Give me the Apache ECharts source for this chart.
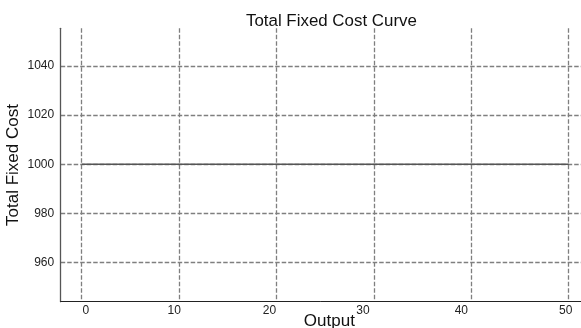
<!DOCTYPE html>
<html>
<head>
<meta charset="utf-8">
<script src="https://cdn.jsdelivr.net/npm/echarts@6/dist/echarts.min.js"></script>
<style>html,body{margin:0;padding:0;background:#fff}#c{width:581px;height:328px}</style>
</head>
<body>
<div id="c"></div>
<script>
var outputValues = [0, 10, 20, 30, 40, 50];
var fixedCostValues = [1000, 1000, 1000, 1000, 1000, 1000];
var xTickValues = [0, 10, 20, 30, 40, 50];
var yTickValues = [960, 980, 1000, 1020, 1040];

// visual horizontal nudges of x tick labels (px), as in the reference
var xLabelShift = {0: 4, 10: -5, 20: -7, 30: -11, 40: -10, 50: -3};

var rich = {};
xTickValues.forEach(function (v) {
  var s = xLabelShift[v] || 0;
  rich['t' + v] = {
    fontFamily: 'Liberation Sans, Arial, sans-serif',
    fontSize: 12,
    color: '#222',
    padding: s >= 0 ? [0, 0, 0, 2 * s] : [0, -2 * s, 0, 0]
  };
});

var chart = echarts.init(document.getElementById('c'), null, {renderer: 'canvas'});
var gridLine = {show: true, lineStyle: {color: '#7f7f7f', width: 1.3, type: [4.5, 2]}};
chart.setOption({
  animation: false,
  backgroundColor: '#fff',
  title: {
    text: 'Total Fixed Cost Curve',
    left: 241, top: 8,
    textStyle: {fontFamily: 'Liberation Sans, Arial, sans-serif', fontSize: 16.9, fontWeight: 'normal', color: '#111'}
  },
  grid: {left: 60.7, right: 0, top: 28.3, bottom: 26.3, containLabel: false, outerBoundsMode: 'none'},
  xAxis: {
    type: 'value', min: -2.16, max: 51.26,
    name: 'Output', nameLocation: 'middle', nameGap: 11, nameMoveOverlap: false,
    nameTextStyle: {fontFamily: 'Liberation Sans, Arial, sans-serif', fontSize: 17, color: '#111', padding: [0, 0, 0, 17]},
    axisLine: {show: true, onZero: false, lineStyle: {color: '#222', width: 1}},
    axisTick: {show: false, customValues: xTickValues},
    axisLabel: {
      customValues: xTickValues, margin: 3,
      formatter: function (v) { return '{t' + v + '|' + v + '}'; },
      rich: rich
    },
    splitLine: gridLine
  },
  yAxis: {
    type: 'value', min: 944.0, max: 1055.4,
    name: 'Total Fixed Cost', nameLocation: 'middle', nameGap: 39, nameMoveOverlap: false,
    nameTextStyle: {fontFamily: 'Liberation Sans, Arial, sans-serif', fontSize: 17, color: '#111'},
    axisLine: {show: true, onZero: false, lineStyle: {color: '#555', width: 1.3}},
    axisTick: {show: false, customValues: yTickValues},
    axisLabel: {customValues: yTickValues, margin: 6.5, fontFamily: 'Liberation Sans, Arial, sans-serif', fontSize: 12, color: '#222',
      formatter: function (v) { return String(v); }},
    splitLine: gridLine
  },
  series: [{
    type: 'line',
    data: outputValues.map(function (x, i) { return [x, fixedCostValues[i]]; }),
    showSymbol: false, symbol: 'none',
    lineStyle: {color: '#555', width: 1.3},
    z: 3
  }]
});
</script>
</body>
</html>
